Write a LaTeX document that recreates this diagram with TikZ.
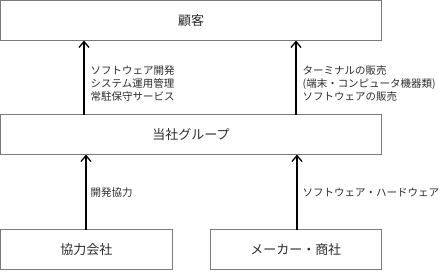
\documentclass[tikz,border=0pt]{standalone}
\usepackage{fontspec}
\setmainfont{Noto Sans CJK JP}
\usepackage{tikz}
\usetikzlibrary{
  arrows.meta,
  positioning
}
\definecolor{orgLine}{HTML}{7A7A7A}
\definecolor{orgText}{HTML}{2B2B2B}
\tikzset{
  orgbox/.style={
    draw=orgLine, line width=0.8pt, minimum height=40pt, inner sep=0pt, outer sep=0pt,
    text=orgText, font=\fontsize{13}{15}\selectfont
  },
  widebox/.style={orgbox, minimum width=381pt},
  halfbox/.style={orgbox, minimum width=171.5pt},
  supply/.style={-{Straight Barb[length=6pt, width=10pt]}, line width=1.3pt, black},
  tag/.style={font=\fontsize{10.5}{13}\selectfont, text=orgText, align=left, inner sep=0pt, anchor=north west}
}
\begin{document}
\begin{tikzpicture}[x=1pt, y=-1pt, node distance=74pt]
  \useasboundingbox (0,0) rectangle (440,271);
  \node[widebox, anchor=north west] (kokyaku) at (0.5,0.5) {顧客};
  \node[widebox, below=of kokyaku] (group) {当社グループ};
  \node[halfbox, below right=75pt and 0pt of group.south west] (kyoryoku) {協力会社};
  \node[halfbox, right=38pt of kyoryoku] (maker) {メーカー・商社};
  % arrows
  \draw[supply] ([xshift=83.5pt]group.north west) -- ([xshift=83.5pt]kokyaku.south west);
  \draw[supply] ([xshift=295.5pt]group.north west) -- ([xshift=295.5pt]kokyaku.south west);
  \draw[supply] ([xshift=85.5pt]kyoryoku.north west) -- ([xshift=85.5pt]group.south west);
  \draw[supply] ([xshift=87pt]maker.north west) -- ([xshift=296.5pt]group.south west);
  % labels
  \node[tag] (devsvc) at ([xshift=90pt, yshift=-25pt]kokyaku.south west) {ソフトウェア開発\\システム運用管理\\常駐保守サービス};
  \node[tag] (sales) at ([xshift=302pt, yshift=-25pt]kokyaku.south west) {ターミナルの販売\\(端末・コンピュータ機器類)\\ソフトウェアの販売};
  \node[tag] (devcoop) at ([xshift=90pt, yshift=-33pt]group.south west) {開発協力};
  \node[tag] (goods) at ([xshift=302pt, yshift=-33pt]group.south west) {ソフトウェア・ハードウェア};
\end{tikzpicture}
\end{document}
